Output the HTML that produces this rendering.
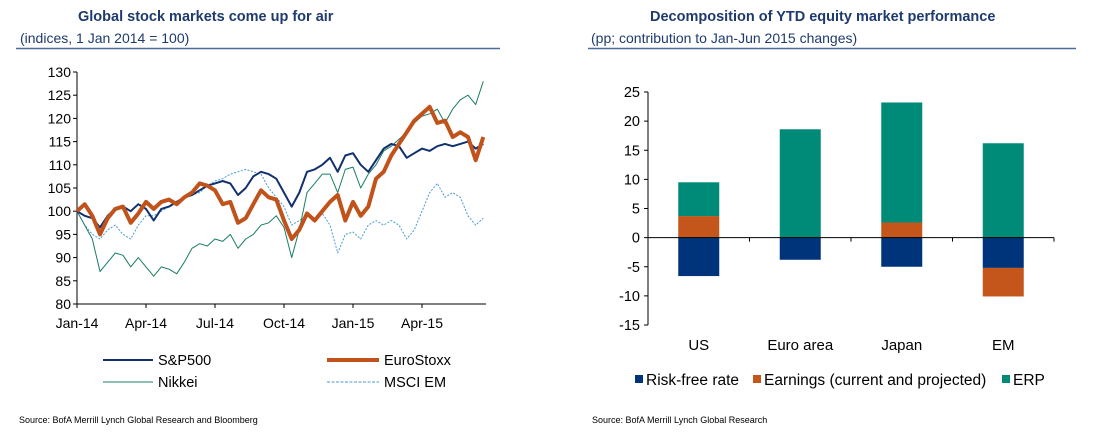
<!DOCTYPE html>
<html><head><meta charset="utf-8">
<style>
body{margin:0;background:#fff;width:1095px;height:436px;overflow:hidden;font-family:"Liberation Sans",Arial,sans-serif;}
svg{display:block}
</style></head>
<body>
<svg id="s" width="1095" height="436" xmlns="http://www.w3.org/2000/svg" font-family="Liberation Sans, Arial, sans-serif">
  <text x="78" y="21" font-size="14.5" font-weight="bold" fill="#1f3a6e">Global stock markets come up for air</text>
  <text x="20" y="43" font-size="14" fill="#1f3a6e">(indices, 1 Jan 2014 = 100)</text>
  <line x1="16" y1="48.5" x2="500" y2="48.5" stroke="#4a6a9a" stroke-width="1.5"/>
  <text x="650" y="21" font-size="14.5" font-weight="bold" fill="#1f3a6e">Decomposition of YTD equity market performance</text>
  <text x="591" y="43" font-size="14" fill="#1f3a6e">(pp; contribution to Jan-Jun 2015 changes)</text>
  <line x1="588" y1="48.5" x2="1076" y2="48.5" stroke="#4a6a9a" stroke-width="1.5"/>
  <g id="left"></g>
  <g id="right"></g>
  <text x="19" y="423" font-size="9" fill="#000">Source: BofA Merrill Lynch Global Research and Bloomberg</text>
  <text x="592" y="423" font-size="9" fill="#000">Source: BofA Merrill Lynch Global Research</text>
</svg>
<script>
// ---- Left chart data (3 points per month, starting Jan 2014) ----
const monthLabels = ["Jan-14","Apr-14","Jul-14","Oct-14","Jan-15","Apr-15"];
const monthTicksAt = [0,3,6,9,12,15];
const yTicksLeft = [80,85,90,95,100,105,110,115,120,125,130];
const sp500 = [100,99,98.5, 96.5,99,100.5, 101,100,101.5, 100.5,98,100.5, 101,102,103, 103.5,104.5,105.5, 106,106.5,106, 103.5,105,107.5, 108.5,108,107, 104,101,104, 108.5,109,110, 111.5,108.5,112, 112.5,110,108.5, 111,113.5,114.5, 114,111.5,112.5, 113.5,113,114, 114.5,114,114.5, 115,113.5,114.5];
const eurostoxx = [100,101.5,99, 95,98.5,100.5, 101,97.5,99.5, 102,100.5,102, 102.5,101.5,103, 104,106,105.5, 104.5,101.5,102, 97.5,98.5,101.5, 104.5,103,102.5, 98,94,96, 99.5,98,100, 102,103.5,98, 102,99,101, 107,108.5,112, 114.5,117,119.5, 121,122.5,119, 119.5,116,117, 116,111,116];
const nikkei = [100,97,94, 87,89,91, 90.5,88,90, 88,86,88, 87.5,86.5,89, 92,93,92.5, 94,93.5,95, 92,94,95, 97,97.5,99, 96.5,90,96, 104,106,108, 108,104,109, 109.5,105,108, 110,113,114, 115.5,117,119, 120.5,121,122, 119,122,124, 125,123,128];
const msciEm = [100,97,95, 94,96,97, 95,94,97, 99,99,100, 101,102,103, 103.5,104,105.5, 106.5,107,108, 108.5,109,108.5, 108,105,103, 101,97,98, 99,98,99.5, 97,91,95, 95.5,94,97, 98,97,98, 97,94,96, 100,104,106, 103,104,103, 99,97,98.5];

// ---- Right chart data ----
const regions = ["US","Euro area","Japan","EM"];
const riskFree = [-6.6,-3.8,-5.0,-5.2];
const earnings = [3.7,0,2.6,-4.9];
const erp = [5.8,18.6,20.6,16.2];
const yTicksRight = [-15,-10,-5,0,5,10,15,20,25];

const NS="http://www.w3.org/2000/svg";
function mk(parent,tag,attrs){const e=document.createElementNS(NS,tag);for(const k in attrs)e.setAttribute(k,attrs[k]);parent.appendChild(e);return e;}

// Left chart
const L=document.getElementById('left');
const lx0=77, pxPerMonth=23, ly=v=>72+(130-v)*232/50;
const lxm=m=>lx0+m*pxPerMonth;
mk(L,'line',{x1:lx0,y1:72,x2:lx0,y2:304,stroke:'#000','stroke-width':1});
mk(L,'line',{x1:lx0,y1:304,x2:486,y2:304,stroke:'#000','stroke-width':1});
yTicksLeft.forEach(v=>{
  mk(L,'line',{x1:lx0-4,y1:ly(v),x2:lx0,y2:ly(v),stroke:'#000'});
  const t=mk(L,'text',{x:lx0-6,y:ly(v)+5,'font-size':14,'text-anchor':'end',fill:'#000'});
  
  
  t.textContent=v;
});
monthLabels.forEach((lab,i)=>{
  const x=lxm(monthTicksAt[i]);
  mk(L,'line',{x1:x,y1:304,x2:x,y2:308,stroke:'#000'});
  const t=mk(L,'text',{x:x,y:328,'font-size':14,'text-anchor':'middle',fill:'#000'});
  
  
  t.textContent=lab;
});
function series(arr,color,w,dash,name){
  const d=arr.map((v,i)=>(i?'L':'M')+lxm(i/3).toFixed(1)+','+ly(v).toFixed(1)).join('');
  const p=mk(L,'path',{d:d,fill:'none',stroke:color,'stroke-width':w,'stroke-linejoin':'round'});
  if(dash)p.setAttribute('stroke-dasharray',dash);
  
  
}
series(msciEm,'#4a9ad0',1,'2,1.5','msci-em-line');
series(nikkei,'#1a7d66',1,null,'nikkei-line');
series(sp500,'#10306e',2,null,'sp500-line');
series(eurostoxx,'#c0521a',4,null,'eurostoxx-line');
function leg(x1,x2,y,color,w,dash,label,name){
  const g=mk(L,'g',{});
  
  
  const l=mk(g,'line',{x1:x1,y1:y,x2:x2,y2:y,stroke:color,'stroke-width':w});
  if(dash)l.setAttribute('stroke-dasharray',dash);
  const t=mk(g,'text',{x:x2+5,y:y+5,'font-size':14.5,fill:'#000'});t.textContent=label;
}
leg(103,153,360,'#10306e',2,null,'S&P500','legend-sp500');
leg(327,379,360,'#c0521a',4,null,'EuroStoxx','legend-eurostoxx');
leg(103,153,382,'#1a7d66',1,null,'Nikkei','legend-nikkei');
leg(327,379,382,'#4a9ad0',1,'3,1.5','MSCI EM','legend-msci-em');

// Right chart
const R=document.getElementById('right');
const rx0=648, rx1=1054, ry=v=>92+(25-v)*233/40;
const band=(rx1-rx0)/regions.length, bw=41;
mk(R,'line',{x1:rx0,y1:92,x2:rx0,y2:325,stroke:'#000'});
yTicksRight.forEach(v=>{
  mk(R,'line',{x1:rx0-4,y1:ry(v),x2:rx0,y2:ry(v),stroke:'#000'});
  const t=mk(R,'text',{x:rx0-8,y:ry(v)+5,'font-size':14.5,'text-anchor':'end',fill:'#000'});
  
  
  t.textContent=v;
});
regions.forEach((r,i)=>{
  const cx=rx0+band*(i+0.5), x=cx-bw/2;
  function bar(a,b,color,name){
    const rc=mk(R,'rect',{x:x,y:ry(Math.max(a,b)),width:bw,height:Math.abs(ry(a)-ry(b)),fill:color});
    
    
  }
  bar(0,riskFree[i],'#00347a','bar-riskfree-'+i);
  if(earnings[i]>=0){ bar(0,earnings[i],'#c4561c','bar-earnings-'+i); bar(earnings[i],earnings[i]+erp[i],'#008a78','bar-erp-'+i); }
  else { bar(riskFree[i],riskFree[i]+earnings[i],'#c4561c','bar-earnings-'+i); bar(0,erp[i],'#008a78','bar-erp-'+i); }
  const t=mk(R,'text',{x:cx,y:350,'font-size':15,'text-anchor':'middle',fill:'#000'});
  
  
  t.textContent=r;
});
mk(R,'line',{x1:rx0,y1:ry(0),x2:rx1,y2:ry(0),stroke:'#000'});
for(let i=1;i<=regions.length;i++){const x=rx0+band*i;mk(R,'line',{x1:x,y1:ry(0),x2:x,y2:ry(0)+4,stroke:'#000'});}
function rleg(x,color,label,name){
  const g=mk(R,'g',{});
  
  
  mk(g,'rect',{x:x,y:375,width:8,height:8,fill:color});
  const t=mk(g,'text',{x:x+11,y:385,'font-size':15.5,fill:'#000'});t.textContent=label;
}
rleg(635,'#00347a','Risk-free rate','legend-riskfree');
rleg(753,'#c4561c','Earnings (current and projected)','legend-earnings');
rleg(1002,'#008a78','ERP','legend-erp');
</script>
</body></html>
